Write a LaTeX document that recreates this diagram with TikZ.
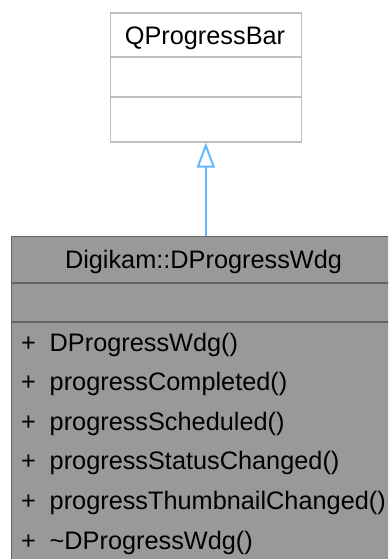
\documentclass[tikz,border=0pt]{standalone}
\usepackage{fontspec}
\setmainfont{Liberation Sans}
\usetikzlibrary{arrows.meta}
\definecolor{topborder}{HTML}{BFBFBF}
\definecolor{botfill}{HTML}{999999}
\definecolor{botborder}{HTML}{666666}
\definecolor{inh}{HTML}{63B8FF}
\begin{document}
\begin{tikzpicture}[x=1pt,y=-1pt,
  lbl/.style={font=\fontsize{25.3}{30}\selectfont, inner sep=0pt, text=black},
  basebox/.style={draw=topborder, fill=white, line width=1.6pt, inner sep=0pt},
  subbox/.style={draw=botborder, fill=botfill, line width=1.6pt, inner sep=0pt},
  topline/.style={draw=topborder, line width=1.6pt},
  botline/.style={draw=botborder, line width=1.6pt},
  inherit/.style={draw=inh, line width=2pt, -{Triangle[open, length=25pt, width=18pt]}}]
\useasboundingbox (0,0) rectangle (388,559);
\fill[white] (0,0) rectangle (388,559);
\clip (0,0) rectangle (388,559);
% base class
\node[basebox, minimum width=191pt, minimum height=129pt, anchor=north west] (base) at (109.5,12) {};
\draw[topline] (base.west |- 0,57.3) -- (base.east |- 0,57.3);
\draw[topline] (base.west |- 0,97.3) -- (base.east |- 0,97.3);
\node[lbl, anchor=base] (basetitle) at (205,45) {QProgressBar};
% derived class
\node[subbox, minimum width=386pt, minimum height=340pt, anchor=north west] (sub) at (10.8,235.7) {};
\draw[botline] (sub.west |- 0,282.7) -- (sub.east |- 0,282.7);
\draw[botline] (sub.west |- 0,321.7) -- (sub.east |- 0,321.7);
\node[lbl, anchor=base] (subtitle) at (203.5,268.3) {Digikam::DProgressWdg};
\node[lbl, anchor=base west] (p1) at (21,351) {+};
\node[lbl, anchor=base west] (m1) at (49.5,351) {DProgressWdg()};
\node[lbl, anchor=base west] (p2) at (21,390.6) {+};
\node[lbl, anchor=base west] (m2) at (49.5,390.6) {progressCompleted()};
\node[lbl, anchor=base west] (p3) at (21,430.2) {+};
\node[lbl, anchor=base west] (m3) at (49.5,430.2) {progressScheduled()};
\node[lbl, anchor=base west] (p4) at (21,469.8) {+};
\node[lbl, anchor=base west] (m4) at (49.5,469.8) {progressStatusChanged()};
\node[lbl, anchor=base west] (p5) at (21,509.4) {+};
\node[lbl, anchor=base west] (m5) at (49.5,509.4) {progressThumbnailChanged()};
\node[lbl, anchor=base west] (p6) at (21,549) {+};
\node[lbl, anchor=base west] (m6) at (49.5,549) {\textasciitilde DProgressWdg()};
% inheritance
\draw[inherit] (base.south |- sub.north) -- (base.south);
\end{tikzpicture}
\end{document}
